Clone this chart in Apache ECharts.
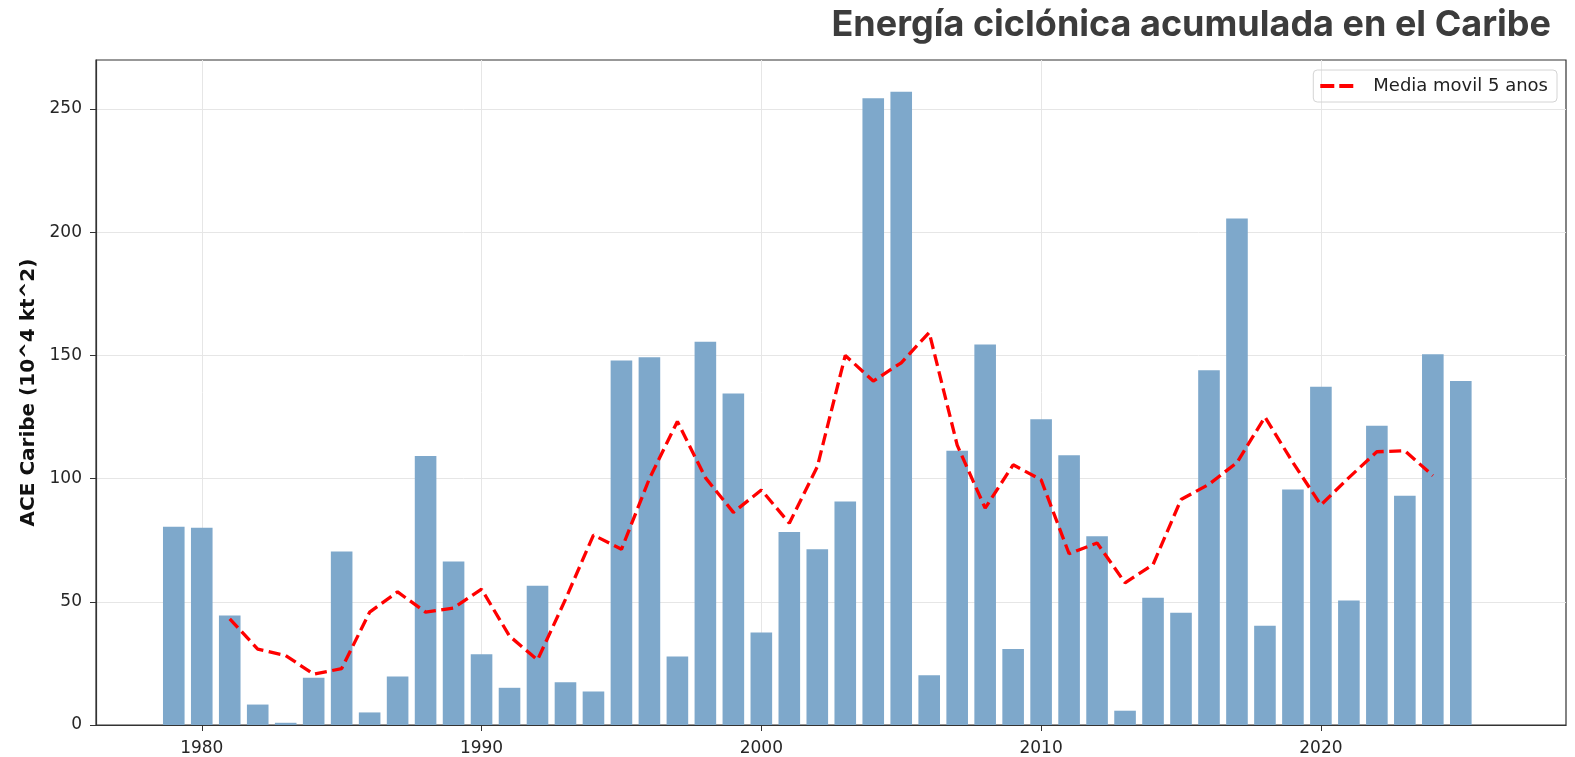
<!DOCTYPE html>
<html>
<head>
<meta charset="utf-8">
<title>ACE Caribe</title>
<script src="https://cdn.jsdelivr.net/npm/echarts@6/dist/echarts.min.js"></script>
<style>
  html, body { margin: 0; padding: 0; background: #fff; }
  #main { width: 1575px; height: 757px; }
</style>
</head>
<body>
<div id="main"></div>
<script>
// años con barra (2026 va a cero, solo cuenta para la media)
var years = [1979, 1980, 1981, 1982, 1983, 1984, 1985, 1986, 1987, 1988,
  1989, 1990, 1991, 1992, 1993, 1994, 1995, 1996, 1997, 1998,
  1999, 2000, 2001, 2002, 2003, 2004, 2005, 2006, 2007, 2008,
  2009, 2010, 2011, 2012, 2013, 2014, 2015, 2016, 2017, 2018,
  2019, 2020, 2021, 2022, 2023, 2024, 2025, 2026];
var aceValues = [80.5, 80.1, 44.4, 8.3, 0.9, 19.2, 70.4, 5.1, 19.7, 109.2,
  66.4, 28.7, 15.1, 56.5, 17.4, 13.6, 147.9, 149.3, 27.8, 155.5,
  134.5, 37.5, 78.3, 71.3, 90.7, 254.4, 257.0, 20.2, 111.3, 154.4,
  30.8, 124.1, 109.5, 76.6, 5.8, 51.6, 45.6, 144.0, 205.6, 40.3,
  95.6, 137.3, 50.5, 121.5, 93.0, 150.5, 139.6, 0];

// media movil centrada, 1981 - 2024
var maYears = [1981, 1982, 1983, 1984, 1985, 1986, 1987, 1988, 1989, 1990,
  1991, 1992, 1993, 1994, 1995, 1996, 1997, 1998, 1999, 2000,
  2001, 2002, 2003, 2004, 2005, 2006, 2007, 2008, 2009, 2010,
  2011, 2012, 2013, 2014, 2015, 2016, 2017, 2018, 2019, 2020,
  2021, 2022, 2023, 2024];
var maValues = [43.1, 30.8, 28.2, 20.6, 22.9, 45.8, 54.0, 45.8, 47.5, 55.1,
  36.1, 26.4, 51.0, 77.1, 71.3, 100.0, 123.2, 100.4, 86.3, 95.4,
  81.9, 104.8, 150.0, 139.6, 147.0, 159.3, 113.6, 88.0, 105.6, 99.5,
  69.5, 73.9, 57.7, 65.1, 91.5, 97.7, 106.5, 125.0, 106.5, 89.3,
  100.4, 110.9, 111.3, 101.2];

var xTicks = [1980, 1990, 2000, 2010, 2020];
var yTicks = [0, 50, 100, 150, 200, 250];

var barData = [];
for (var i = 0; i < years.length; i++) {
  barData.push([years[i], aceValues[i]]);
}
var maData = [];
for (var j = 0; j < maYears.length; j++) {
  maData.push([maYears[j], maValues[j]]);
}

var chart = echarts.init(document.getElementById('main'));

var option = {
  animation: false,
  backgroundColor: '#fff',
  title: {
    text: 'Energía ciclónica acumulada en el Caribe',
    right: 19,
    top: 2,
    textStyle: {
      fontFamily: 'Inter',
      fontWeight: 'bold',
      fontSize: 36,
      color: '#3c3c3c'
    }
  },
  legend: {
    data: ['Media movil 5 anos'],
    right: 18,
    top: 70,
    icon: 'path://M0,0H14V4H0Z M19,0H33V4H19Z',
    itemWidth: 33,
    itemHeight: 4,
    padding: [7, 9, 7, 7],
    borderColor: '#d4d4d4',
    borderWidth: 1,
    borderRadius: 4,
    formatter: function (name) {
      return '{t|' + name + '}';
    },
    textStyle: {
      rich: {
        t: {
          fontFamily: 'DejaVu Sans',
          fontSize: 18,
          color: '#222',
          padding: [0, 0, 0, 15]
        }
      }
    }
  },
  grid: {
    left: 96,
    right: 9,
    top: 60,
    bottom: 31,
    show: true,
    borderColor: '#333',
    borderWidth: 1.2
  },
  xAxis: {
    type: 'value',
    min: 1976.22,
    max: 2028.76,
    axisLine: { show: true, lineStyle: { color: '#333', width: 1.2 } },
    axisTick: { show: true, length: 6, customValues: xTicks, lineStyle: { color: '#333' } },
    axisLabel: {
      customValues: xTicks,
      formatter: function (v) { return String(v); },
      fontFamily: 'DejaVu Sans',
      fontSize: 17,
      color: '#262626',
      margin: 15
    },
    splitLine: { show: true, lineStyle: { color: '#e6e6e6', width: 1 } }
  },
  yAxis: {
    type: 'value',
    min: 0,
    max: 269.9,
    name: 'ACE Caribe (10^4 kt^2)',
    nameLocation: 'middle',
    nameGap: 55,
    nameTextStyle: {
      fontFamily: 'DejaVu Sans',
      fontWeight: 'bold',
      fontSize: 20,
      color: '#111'
    },
    axisLine: { show: true, lineStyle: { color: '#333', width: 1.2 } },
    axisTick: { show: true, length: 6, customValues: yTicks, lineStyle: { color: '#333' } },
    axisLabel: {
      customValues: yTicks,
      fontFamily: 'DejaVu Sans',
      fontSize: 17,
      color: '#262626',
      margin: 14
    },
    splitLine: { show: true, lineStyle: { color: '#e6e6e6', width: 1 } }
  },
  series: [
    {
      name: 'ACE',
      type: 'bar',
      data: barData,
      barWidth: 21.6,
      itemStyle: {
        color: '#7ea8cb'
      }
    },
    {
      name: 'Media movil 5 anos',
      type: 'line',
      data: maData,
      symbol: 'none',
      showSymbol: false,
      z: 5,
      lineStyle: {
        color: '#ff0000',
        width: 3.3,
        type: [12, 5.5]
      },
      itemStyle: { color: '#ff0000' }
    }
  ]
};

chart.setOption(option);
</script>
</body>
</html>
